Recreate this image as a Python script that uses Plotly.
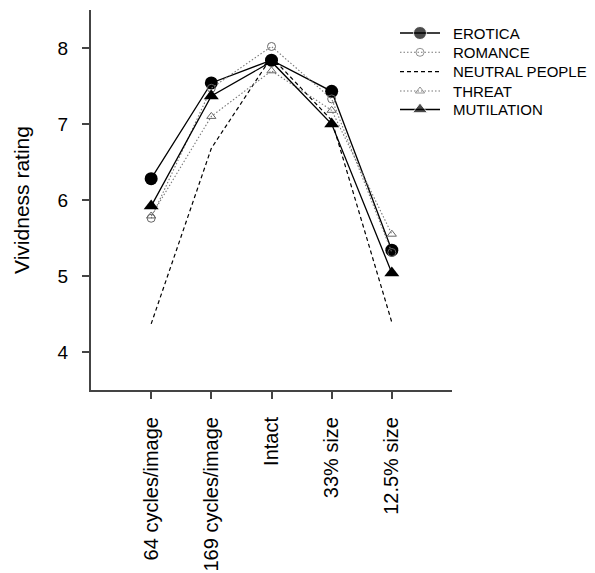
import plotly.graph_objects as go

categories = ["64 cycles/image", "169 cycles/image", "Intact", "33% size", "12.5% size"]
erotica = [6.28, 7.54, 7.84, 7.43, 5.34]
romance = [5.76, 7.47, 8.02, 7.33, 5.31]
neutral = [4.37, 6.68, 7.88, 7.05, 4.39]
threat = [5.79, 7.10, 7.70, 7.18, 5.55]
mutilation = [5.92, 7.37, 7.82, 7.00, 5.04]
series_names = ["EROTICA", "ROMANCE", "NEUTRAL PEOPLE", "THREAT", "MUTILATION"]

xs = list(range(len(categories)))

styles = [
    dict(mode="lines+markers", line=dict(color="black", width=1.3),
         marker=dict(symbol="circle", size=13, color="black")),
    dict(mode="lines+markers", line=dict(color="#777777", width=1.1, dash="1.5px,2px"),
         marker=dict(symbol="circle-open", size=8, color="#666666", line=dict(width=1))),
    dict(mode="lines", line=dict(color="black", width=1.2, dash="4px,3px")),
    dict(mode="lines+markers", line=dict(color="#777777", width=1.1, dash="1.5px,2px"),
         marker=dict(symbol="triangle-up-open", size=8, color="#666666", line=dict(width=1))),
    dict(mode="lines+markers", line=dict(color="black", width=1.3),
         marker=dict(symbol="triangle-up", size=13, color="black")),
]
data = [erotica, romance, neutral, threat, mutilation]

fig = go.Figure()
for name, vals, st in zip(series_names, data, styles):
    fig.add_trace(go.Scatter(x=xs, y=vals, name=name, showlegend=False, **st))

# manual legend on an overlay axis measured in screen pixels
leg_y = [33, 52.3, 71.7, 91, 109.5]
for name, yy, st in zip(series_names, leg_y, styles):
    st2 = dict(st)
    if "marker" in st2:
        mk = dict(st2["marker"])
        mk["size"] = [0, mk["size"], 0]
        st2["marker"] = mk
    fig.add_trace(go.Scatter(x=[400, 420, 440], y=[yy, yy, yy], xaxis="x2", yaxis="y2",
                             showlegend=False, hoverinfo="skip", cliponaxis=False, **st2))
    fig.add_annotation(x=451, y=yy, xref="x2", yref="y2", text=name, showarrow=False,
                       xanchor="left", yanchor="middle", font=dict(size=15, color="black"))

fig.update_layout(
    width=587, height=565,
    margin=dict(l=83, r=143, t=2, b=183),
    plot_bgcolor="white", paper_bgcolor="white",
    font=dict(family="Liberation Sans, Arial, sans-serif", color="black"),
    showlegend=False,
    xaxis=dict(range=[-1, 5], tickvals=xs, ticktext=categories, tickangle=-90,
               showgrid=False, zeroline=False, showline=True, linecolor="#444444", linewidth=2,
               ticks="outside", ticklen=7, tickwidth=2, tickcolor="#444444",
               tickfont=dict(size=20), ticklabelstandoff=10),
    yaxis=dict(range=[3.5, 8.5], tickvals=[4, 5, 6, 7, 8],
               showgrid=False, zeroline=False, showline=True, linecolor="#444444", linewidth=2,
               ticks="outside", ticklen=7, tickwidth=1.5, tickcolor="#444444",
               tickfont=dict(size=19), ticklabelstandoff=10,
               title=dict(text="Vividness rating", font=dict(size=21), standoff=22)),
    xaxis2=dict(range=[91, 452], domain=[0, 1], overlaying="x", visible=False),
    yaxis2=dict(range=[390, 10], domain=[0, 1], overlaying="y", visible=False),
)

fig.write_html("out.html")
